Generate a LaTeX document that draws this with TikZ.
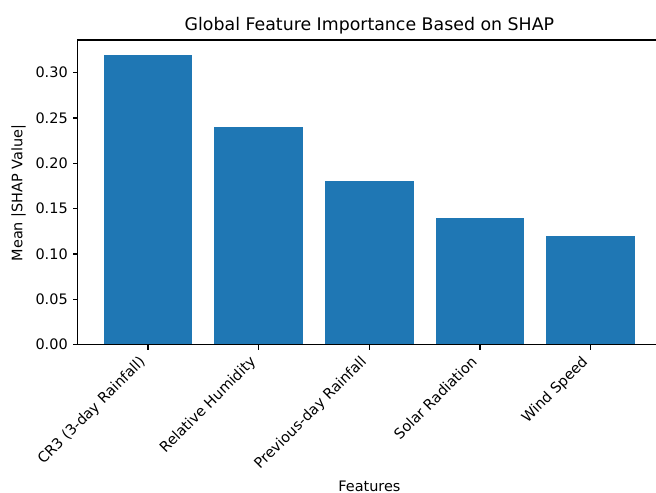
\documentclass[tikz,border=0pt]{standalone}
\usepackage{fontspec}
\setmainfont{DejaVu Sans}
\definecolor{barblue}{HTML}{1F77B4}
\begin{document}
\begin{tikzpicture}[x=0.72pt,y=-0.72pt,
  spine/.style={line width=0.8pt,black},
  tickmark/.style={line width=0.8pt,black},
  bar/.style={fill=barblue},
  ticklabel/.style={font=\fontsize{10.4pt}{12.5pt}\selectfont,inner sep=0pt},
  xticklabel/.style={ticklabel,rotate=45,anchor=north east,text height=7.9pt,text depth=2.3pt},
  axlabel/.style={font=\fontsize{10.4pt}{12.5pt}\selectfont,inner sep=0pt},
  titlestyle/.style={font=\fontsize{12.5pt}{15pt}\selectfont,inner sep=0pt}]
\useasboundingbox (0,0) rectangle (656,493);
\clip (0,0) rectangle (656,493);
% axes geometry: x-spacing 110.67 px per bar, 906.7 px per unit of |SHAP|
\def\xa{148}\def\dx{110.67}\def\yb{344.7}\def\sy{906.7}
\def\hw{44.27}
% bars
\foreach \i/\v in {0/0.32,1/0.24,2/0.18,3/0.14,4/0.12}{
  \fill[bar] ({\xa+\i*\dx-\hw},\yb) rectangle ({\xa+\i*\dx+\hw},{\yb-\v*\sy});
}
% spines
\coordinate (tl) at (77.5,40.0);
\coordinate (bl) at (77.5,\yb);
\coordinate (tr) at (661.6,40.0);
\coordinate (br) at (661.6,\yb);
\draw[spine] (bl) -- (tl) -- (tr) -- (br) -- cycle;
% y ticks and labels
\foreach \k/\v/\t in {0/0/0.00,1/0.05/0.05,2/0.10/0.10,3/0.15/0.15,4/0.20/0.20,5/0.25/0.25,6/0.30/0.30}{
  \coordinate (yt\k) at (77.5,{\yb-\v*\sy});
  \draw[tickmark] (yt\k) -- ++(-4.9,0);
  \node[ticklabel,anchor=east] (ylab\k) at (68.0,{\yb-\v*\sy}) {\t};
}
% x ticks and labels (rotated labels, bounding box right-aligned to the tick)
\foreach \i/\t in {0/CR3 (3-day Rainfall),1/Relative Humidity,2/Previous-day Rainfall,3/Solar Radiation,4/Wind Speed}{
  \coordinate (xt\i) at ({\xa+\i*\dx},\yb);
  \draw[tickmark] (xt\i) -- ++(0,4.9);
  \node[xticklabel] (xlab\i) at ({\xa+\i*\dx-10},354.6) {\t};
}
% axis labels and title
\node[axlabel,anchor=base] (xlabel) at (369.4,491.8) {Features};
\node[axlabel,rotate=90] (ylabel) at (18.5,193) {Mean |SHAP Value|};
\node[titlestyle,anchor=base] (title) at (369.4,30.7) {Global Feature Importance Based on SHAP};
\end{tikzpicture}
\end{document}
